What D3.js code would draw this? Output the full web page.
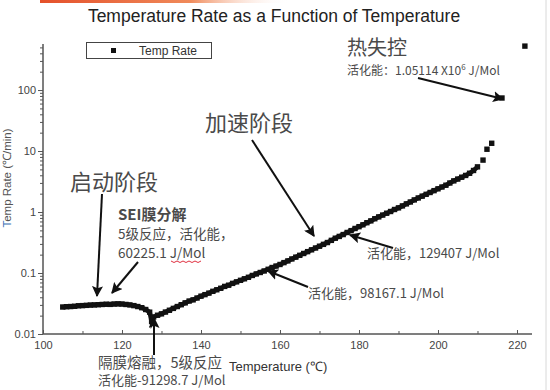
<!DOCTYPE html>
<html>
<meta charset="utf-8">
<style>
    body { margin: 0; background: #fff; }
    svg { display: block; }
    text { font-family: "Liberation Sans", Arial, sans-serif; }
    .cn { font-family: "Noto Sans CJK SC", sans-serif; fill: #4a4a4a; }
</style>
<body>
<svg width="550" height="390"></svg>
<script src="https://d3js.org/d3.v7.min.js"></script>
<script>

    // temperature (°C)
    let temps = [105, 106, 107, 108, 109, 110, 111, 112, 113, 114, 115, 116, 117, 118, 119, 120,
        121, 122, 123, 124, 125, 126, 127, 127.5, 128, 129, 130,
        131, 132, 133, 134, 135, 136, 137, 138, 139, 140, 141, 142, 143, 144, 145, 146, 147, 148, 149, 150,
        151, 152, 153, 154, 155, 156, 157, 158, 159, 160, 161, 162, 163, 164, 165, 166, 167, 168, 169, 170,
        171, 172, 173, 174, 175, 176, 177, 178, 179, 180, 181, 182, 183, 184, 185, 186, 187, 188, 189, 190,
        191, 192, 193, 194, 195, 196, 197, 198, 199, 200, 201, 202, 203, 204, 205, 206, 207, 208, 209, 210,
        211.4, 212.4, 213.6, 216.2, 222];

    // temp rate (°C/min)
    let rates = [0.0277, 0.0280, 0.0282, 0.0285, 0.0290, 0.0292, 0.0295, 0.0298, 0.0300, 0.0302, 0.0305, 0.0308, 0.0306, 0.0310, 0.0312, 0.0310,
        0.0305, 0.0300, 0.0292, 0.0282, 0.0270, 0.0252, 0.0228, 0.0160, 0.0190, 0.0203, 0.0214,
        0.0229, 0.0245, 0.0263, 0.0282, 0.0302, 0.0324, 0.0347, 0.0363, 0.0389, 0.0417, 0.0442, 0.0468, 0.0501, 0.0531, 0.0562, 0.0603, 0.0631, 0.0676, 0.0716, 0.0759,
        0.0804, 0.0851, 0.0912, 0.0966, 0.102, 0.108, 0.115, 0.123, 0.130, 0.138, 0.148, 0.158, 0.170, 0.182, 0.195, 0.209, 0.224, 0.240, 0.257, 0.275,
        0.295, 0.316, 0.343, 0.372, 0.398, 0.427, 0.462, 0.495, 0.537, 0.575, 0.617, 0.668, 0.716, 0.776, 0.832, 0.891, 0.955, 1.02, 1.10, 1.17,
        1.26, 1.36, 1.46, 1.58, 1.70, 1.82, 1.95, 2.09, 2.24, 2.40, 2.57, 2.75, 2.99, 3.24, 3.47, 3.72, 3.98, 4.32, 4.80, 5.50,
        7.1, 10.7, 13.4, 74, 525];

    // the dense run of points, drawn as one thick trace (105 - 210 °C)
    let denseCount = temps.indexOf(210) + 1;

    let xMajor = [100, 120, 140, 160, 180, 200, 220];
    let xMinor = [110, 130, 150, 170, 190, 210];
    let yMajor = [0.01, 0.1, 1, 10, 100];
    let yLabels = ["0.01", "0.1", "1", "10", "100"];

    let svg = d3.select("svg");

    let x = d3.scaleLinear().domain([100, 223.8]).range([43, 532]);
    let y = d3.scaleLog().domain([0.01, 560]).range([334, 44.4]);

    // slide decorations
    let defs = svg.append("defs");
    let grad = defs.append("linearGradient").attr("id", "topbar");
    grad.append("stop").attr("offset", "0%").attr("stop-color", "#e4502a");
    grad.append("stop").attr("offset", "60%").attr("stop-color", "#f08a5a");
    grad.append("stop").attr("offset", "100%").attr("stop-color", "#fff").attr("stop-opacity", 0);
    svg.append("rect").attr("x", 40).attr("y", 0).attr("width", 250).attr("height", 3).attr("fill", "url(#topbar)");
    svg.append("line").attr("x1", 546).attr("x2", 546).attr("y1", 0).attr("y2", 390)
        .attr("stroke", "#d8d8d8").attr("stroke-width", 1);

    defs.append("marker")
        .attr("id", "arrow")
        .attr("viewBox", "0 0 10 10")
        .attr("refX", 9).attr("refY", 5)
        .attr("markerWidth", 5.5).attr("markerHeight", 5.5)
        .attr("markerUnits", "strokeWidth")
        .attr("orient", "auto")
        .append("path").attr("d", "M0,0L10,5L0,10L2,5Z").attr("fill", "#111");

    // title
    svg.append("text")
        .attr("x", 274).attr("y", 22)
        .attr("text-anchor", "middle")
        .attr("font-size", 17.5)
        .attr("fill", "#222")
        .text("Temperature Rate as a Function of Temperature");

    // x axis
    let xAxis = svg.append("g").attr("transform", "translate(0,334)");
    xAxis.call(d3.axisBottom(x).tickValues(xMajor).tickSize(-4).tickFormat(d3.format("d")));
    xAxis.append("g").call(d3.axisBottom(x).tickValues(xMinor).tickSize(-3).tickFormat(""));
    xAxis.selectAll("path, line").attr("stroke", "#555");
    xAxis.selectAll(".domain").attr("d", "M43,0H532");
    xAxis.selectAll("text").attr("y", 7).attr("dy", "0.71em")
        .attr("font-size", 11).attr("fill", "#444").attr("font-family", "Liberation Sans, Arial");

    // y axis
    let yMinor = [];
    for (let p = -2; p <= 2; p++) {
        for (let k = 2; k <= 9; k++) {
            let v = k * Math.pow(10, p);
            if (v < 560) yMinor.push(v);
        }
    }
    let yAxis = svg.append("g").attr("transform", "translate(43,0)");
    yAxis.call(d3.axisLeft(y).tickValues(yMajor).tickSize(5)
        .tickFormat(function (d, i) { return yLabels[i]; }));
    yAxis.append("g").call(d3.axisLeft(y).tickValues(yMinor).tickSize(3).tickFormat(""));
    yAxis.selectAll("path, line").attr("stroke", "#555");
    yAxis.selectAll(".domain").attr("d", "M0,334V44");
    yAxis.selectAll("text").attr("x", -7)
        .attr("font-size", 11).attr("fill", "#444").attr("font-family", "Liberation Sans, Arial");

    // axis titles
    let yTitle = svg.append("text")
        .attr("transform", "translate(11,178) rotate(-90)")
        .attr("text-anchor", "middle")
        .attr("font-size", 11.5)
        .attr("fill", "#555");
    yTitle.append("tspan").attr("fill", "#3a6fb4").text("T");
    yTitle.append("tspan").text("emp Rate (\u2103/min)");

    svg.append("text")
        .attr("x", 229).attr("y", 371)
        .attr("font-size", 13)
        .attr("fill", "#333")
        .text("Temperature (\u2103)");

    // data points
    let line = d3.line()
        .x(function (d) { return x(d); })
        .y(function (d, i) { return y(rates[i]); });
    svg.append("path")
        .datum(temps.slice(0, denseCount))
        .attr("d", line)
        .attr("fill", "none")
        .attr("stroke", "#111")
        .attr("stroke-width", 4.5);

    svg.append("g")
        .selectAll("rect")
        .data(temps)
        .enter().append("rect")
        .attr("x", function (d) { return x(d) - 2.7; })
        .attr("y", function (d, i) { return y(rates[i]) - 2.7; })
        .attr("width", 5.4)
        .attr("height", 5.4)
        .attr("fill", "#111");

    // legend
    svg.append("rect")
        .attr("x", 86.5).attr("y", 42.5).attr("width", 125).attr("height", 16)
        .attr("fill", "#fff").attr("stroke", "#444");
    svg.append("rect")
        .attr("x", 111).attr("y", 48).attr("width", 5).attr("height", 5).attr("fill", "#111");
    svg.append("text")
        .attr("x", 139).attr("y", 55)
        .attr("font-size", 12).attr("fill", "#333")
        .text("Temp Rate");

    // annotations
    function label(tx, ty, size, str) {
        return svg.append("text").attr("class", "cn")
            .attr("x", tx).attr("y", ty)
            .attr("font-size", size)
            .text(str);
    }
    function arrow(x1, y1, x2, y2) {
        svg.append("line")
            .attr("x1", x1).attr("y1", y1).attr("x2", x2).attr("y2", y2)
            .attr("stroke", "#111").attr("stroke-width", 2)
            .attr("marker-end", "url(#arrow)");
    }

    label(347, 55, 20, "热失控");
    let hot = label(347, 75, 12, "活化能：1.05114 X10");
    hot.append("tspan").attr("font-size", 8).attr("dy", -5).text("6");
    hot.append("tspan").attr("dy", 5).text(" J/Mol");
    arrow(418, 78, 503, 99);

    label(205, 131, 22, "加速阶段");
    arrow(252, 140, 314, 236);

    label(70, 190, 22, "启动阶段");
    arrow(102, 194, 97, 296);

    label(118, 220, 15, "SEI膜分解").attr("font-weight", "bold");
    label(118, 239, 13.5, "5级反应，活化能，");
    label(118, 258, 13.5, "60225.1 J/Mol");
    svg.append("path")
        .attr("d", "M171,261l3,1.5l3,-1.5l3,1.5l3,-1.5l3,1.5l3,-1.5l3,1.5l3,-1.5l3,1.5l3,-1.5")
        .attr("fill", "none").attr("stroke", "#e03040").attr("stroke-width", 1);
    arrow(138, 262, 112, 293);

    label(367, 258, 13, "活化能，129407 J/Mol");
    arrow(393, 248, 350, 235);

    label(308, 298, 13, "活化能，98167.1 J/Mol");
    arrow(308, 287, 268, 271);

    label(98, 368, 14.5, "隔膜熔融，5级反应");
    label(98, 385, 13, "活化能-91298.7 J/Mol");
    arrow(154, 355, 154, 318);

</script>
</body>
</html>
